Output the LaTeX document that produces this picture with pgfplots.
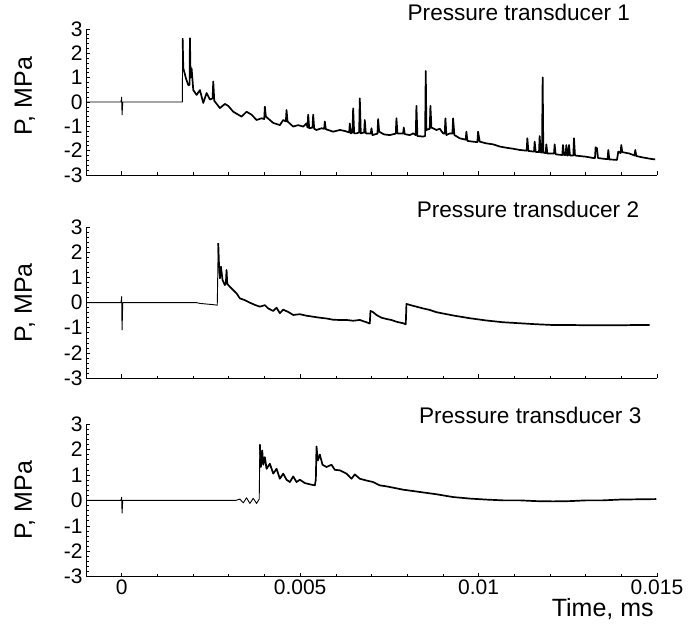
\documentclass[border=0pt]{standalone}
\usepackage{fontspec}
\setmainfont{Liberation Sans}
\usepackage{pgfplots}
\pgfplotsset{compat=1.18}
\pgfplotsset{
  panel/.style={
    scale only axis, width=571pt,
    xmin=-0.001, xmax=0.015, ymin=-3, ymax=3,
    axis lines*=left, tick align=inside,
    scaled x ticks=false, scaled y ticks=false,
    xtick={0,0.005,0.01,0.015}, minor x tick num=4,
    ytick={-3,-2,-1,0,1,2,3}, yticklabels={-3,-2,-1,0,1,2,3}, minor y tick num=4,
    major tick length=4pt, minor tick length=2.5pt,
    tick style={black, line width=0.6pt},
    axis line style={black, line width=0.8pt},
    ticklabel style={font=\fontsize{21}{25}\selectfont},
    title style={font=\fontsize{22.6}{26}\selectfont, anchor=center, yshift=0pt},
    ylabel={P, MPa},
    ylabel style={font=\fontsize{25}{30}\selectfont, anchor=center},
  },
  trace/.style={black, line width=1.7pt, line join=round, mark=none},
  base/.style={black, line width=0.9pt, line join=round, mark=none},
}
\begin{document}
\begin{tikzpicture}
% ---------------- Panel 1 ----------------
\begin{axis}[panel, height=146pt, at={(86pt,450pt)}, anchor=south west,
  xticklabels={},
  title={Pressure transducer 1},
  title style={at={(axis description cs:0.758,1.075)}},
  ylabel style={at={(axis description cs:-0.107,0.54)}}]
\addplot[base] coordinates {
(-0.001,0) (-0.00002,0) (0,0.2) (0.00001,-0.53) (0.00003,0) (0.0017,0) (0.001707,2.62)
};
\addplot[trace] coordinates {
(0.001707,2.62) (0.001726,1.4) (0.0018,0.97) (0.001866,0.7) (0.001903,0.7)
(0.001912,2.62) (0.001931,1.0) (0.001959,1.38) (0.002006,0.49) (0.002099,0.29)
(0.002192,0.49) (0.002286,-0.04) (0.002379,0.37) (0.002472,0.1) (0.002547,0.15)
(0.002566,0.84) (0.002594,0.05) (0.002752,-0.25) (0.002892,-0.08) (0.002986,-0.16)
(0.003126,-0.4) (0.003266,-0.52) (0.003359,-0.6) (0.003499,-0.4) (0.003639,-0.52)
(0.003779,-0.74) (0.003919,-0.67) (0.003994,-0.7) (0.004012,-0.19) (0.00404,-0.6)
(0.004152,-0.74) (0.004246,-0.86) (0.004432,-0.95) (0.004526,-0.74) (0.0046,-0.8)
(0.004619,-0.33) (0.004647,-0.8) (0.004806,-1.01) (0.004946,-0.95) (0.005086,-1.01)
(0.005179,-0.88) (0.005207,-1.05) (0.005226,-0.52) (0.005254,-1.08) (0.005347,-1.05)
(0.005366,-0.52) (0.005394,-1.1) (0.005459,-1.15) (0.005599,-1.08) (0.005674,-1.1)
(0.005692,-0.8) (0.00572,-1.12) (0.005786,-1.15) (0.005926,-1.22) (0.006112,-1.15)
(0.006252,-1.19) (0.006374,-1.25) (0.006392,-0.88) (0.00642,-1.29) (0.006467,-1.25)
(0.006486,-0.26) (0.006514,-1.29) (0.006579,-1.29) (0.006654,-1.25) (0.006672,0.15)
(0.0067,-1.29) (0.006794,-1.25) (0.006812,-0.74) (0.00684,-1.29) (0.00698,-1.3)
(0.006999,-1.08) (0.007027,-1.36) (0.007167,-1.3) (0.007186,-0.7) (0.007214,-1.22)
(0.00735,-1.33) (0.007512,-1.36) (0.00768,-1.3) (0.007699,-0.67) (0.007727,-1.29)
(0.007886,-1.3) (0.007904,-1.05) (0.007932,-1.32) (0.008072,-1.36) (0.008166,-1.29)
(0.00824,-1.36) (0.008259,-0.16) (0.008287,-1.4) (0.008446,-1.42) (0.008502,-1.4)
(0.00852,1.27) (0.008539,-1.15) (0.008632,-1.1) (0.008651,-0.16) (0.008679,-1.05)
(0.008819,-1.15) (0.008912,-1.1) (0.009006,-1.29) (0.009052,-1.3) (0.009071,-0.67)
(0.009099,-1.36) (0.009192,-1.29) (0.009267,-1.3) (0.009286,-0.67) (0.009323,-1.36)
(0.009472,-1.49) (0.00964,-1.55) (0.009659,-1.22) (0.009687,-1.6) (0.009846,-1.63)
(0.009967,-1.65) (0.009986,-1.22) (0.010032,-1.63) (0.010219,-1.7) (0.010406,-1.74)
(0.010592,-1.83) (0.010779,-1.88) (0.010966,-1.92) (0.011152,-1.97) (0.011348,-2.0)
(0.011367,-1.49) (0.011395,-2.01) (0.011554,-2.04) (0.011572,-1.63) (0.0116,-2.05)
(0.011694,-2.06) (0.011712,-1.4) (0.01174,-2.07) (0.011778,-2.08) (0.011796,1.01)
(0.011815,-2.08) (0.01188,-2.1) (0.011899,-1.74) (0.011927,-2.12) (0.012114,-2.12)
(0.012132,-1.74) (0.01216,-2.15) (0.012347,-2.18) (0.012366,-1.77) (0.012394,-2.18)
(0.01244,-2.18) (0.012459,-1.77) (0.012487,-2.2) (0.012515,-2.18) (0.012534,-1.77)
(0.012562,-2.2) (0.012655,-2.2) (0.012674,-1.49) (0.012702,-2.2) (0.012832,-2.22)
(0.013019,-2.25) (0.013206,-2.3) (0.013262,-2.3) (0.01328,-1.86) (0.013318,-1.9)
(0.013346,-2.3) (0.013486,-2.33) (0.013616,-2.35) (0.013635,-1.97) (0.013663,-2.36)
(0.013878,-2.38) (0.013915,-2.04) (0.01398,-2.1) (0.013999,-1.77) (0.014027,-2.06)
(0.014232,-2.12) (0.014372,-2.2) (0.014391,-1.97) (0.014419,-2.22) (0.014606,-2.28)
(0.014839,-2.34) (0.01495,-2.36)
};
\end{axis}
% ---------------- Panel 2 ----------------
\begin{axis}[panel, height=150.7pt, at={(86pt,247pt)}, anchor=south west,
  xticklabels={},
  title={Pressure transducer 2},
  title style={at={(axis description cs:0.774,1.082)}},
  ylabel style={at={(axis description cs:-0.107,0.5)}}]
\addplot[base] coordinates {
(-0.001,0) (-0.00002,0) (0,0.24) (0.00001,-1.09) (0.00003,0) (0.0021,0)
(0.002192,-0.03) (0.002566,-0.08) (0.002678,-0.1) (0.002706,2.37)
};
\addplot[trace] coordinates {
(0.002706,2.37) (0.002734,1.2)
(0.002752,0.97) (0.00278,1.43) (0.002827,0.9) (0.002892,0.7) (0.00292,0.8)
(0.002939,1.3) (0.002958,0.75) (0.003032,0.63) (0.003126,0.5) (0.003219,0.37)
(0.003312,0.17) (0.003452,0.1) (0.003592,0.0) (0.003732,-0.09) (0.003872,-0.16)
(0.004012,-0.1) (0.004106,-0.23) (0.004246,-0.33) (0.004339,-0.2) (0.004432,-0.42)
(0.004526,-0.28) (0.004666,-0.37) (0.004806,-0.49) (0.004992,-0.46) (0.005179,-0.52)
(0.005366,-0.56) (0.005552,-0.6) (0.005739,-0.63) (0.005926,-0.68) (0.006112,-0.69)
(0.006299,-0.69) (0.006486,-0.72) (0.006672,-0.69) (0.006859,-0.78) (0.006952,-0.83)
(0.006971,-0.33) (0.007046,-0.38) (0.007139,-0.49) (0.007279,-0.6) (0.007419,-0.65)
(0.007559,-0.69) (0.007699,-0.76) (0.007886,-0.82) (0.00796,-0.86) (0.007979,-0.05)
(0.008072,-0.09) (0.008259,-0.16) (0.008446,-0.23) (0.008632,-0.29) (0.008819,-0.38)
(0.009286,-0.51) (0.009752,-0.62) (0.010219,-0.71) (0.010686,-0.78) (0.011152,-0.82)
(0.011619,-0.86) (0.012086,-0.89) (0.012552,-0.89) (0.013019,-0.9) (0.013486,-0.9)
(0.013952,-0.9) (0.014419,-0.89) (0.014792,-0.89)
};
\end{axis}
% ---------------- Panel 3 ----------------
\begin{axis}[panel, height=152.7pt, at={(86pt,48.3pt)}, anchor=south west,
  xticklabels={0,0.005,0.01,0.015},
  title={Pressure transducer 3},
  title style={at={(axis description cs:0.778,1.02)}},
  ylabel style={at={(axis description cs:-0.107,0.5)}},
  xlabel={Time, ms},
  xlabel style={font=\fontsize{25}{30}\selectfont, at={(axis description cs:0.905,-0.26)}, anchor=base}]
\addplot[base] coordinates {
(-0.001,0) (-0.00002,0) (0,0.12) (0.00001,-0.5) (0.00003,0) (0.0032,0)
(0.003312,0.05) (0.003406,-0.1) (0.003499,0.1) (0.003592,-0.12) (0.003686,0.08)
(0.003779,-0.12) (0.003854,0.05) (0.003872,2.2)
};
\addplot[trace] coordinates {
(0.003872,2.2) (0.0039,1.31) (0.003938,1.96)
(0.003966,1.4) (0.004012,1.7) (0.004059,1.24) (0.004152,1.44) (0.004246,1.05)
(0.004339,1.24) (0.004432,0.85) (0.004526,1.05) (0.004619,0.81) (0.004712,0.72)
(0.004806,0.94) (0.004899,0.72) (0.004992,0.81) (0.005132,0.68) (0.005272,0.63)
(0.005412,0.59) (0.00544,0.81) (0.005459,2.12) (0.005496,1.57) (0.005552,1.8)
(0.005627,1.4) (0.005739,1.31) (0.005879,1.4) (0.005972,1.2) (0.006112,1.18)
(0.006299,1.05) (0.006439,0.85) (0.006532,1.02) (0.006672,0.85) (0.006859,0.78)
(0.007046,0.72) (0.007232,0.59) (0.007419,0.55) (0.007886,0.42) (0.008352,0.33)
(0.008819,0.24) (0.009286,0.13) (0.009752,0.07) (0.010219,0.03) (0.010686,0.0)
(0.011152,0.0) (0.011619,-0.03) (0.012086,-0.04) (0.012552,-0.03) (0.013019,0.0)
(0.013486,0.0) (0.013952,0.03) (0.014419,0.04) (0.014979,0.05)
};
\end{axis}
\pgfresetboundingbox
\useasboundingbox (0,0) rectangle (688pt,625pt);
\end{tikzpicture}
\end{document}
